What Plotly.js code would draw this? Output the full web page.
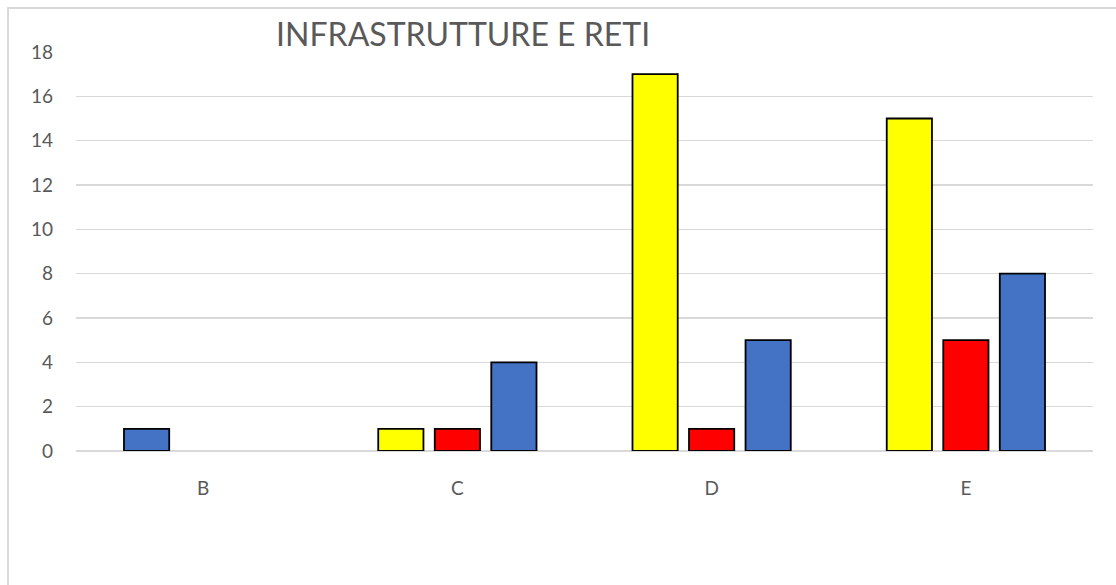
<!DOCTYPE html>
<html>
<head>
<meta charset="utf-8">
<script src="https://cdn.plot.ly/plotly-3.0.1.min.js"></script>
<style>
  html, body { margin: 0; padding: 0; background: #fff; }
  #wrap { position: relative; width: 1116px; height: 585px; }
  #chart { width: 1116px; height: 585px; }
  #frame { position: absolute; left: 7px; top: 7px; right: 0; bottom: 0;
           border-left: 2px solid #d9d9d9; border-top: 2px solid #d9d9d9;
           pointer-events: none; }
</style>
</head>
<body>
<div id="wrap">
  <div id="chart"></div>
  <div id="frame"></div>
</div>
<script>
const categories = ['B', 'C', 'D', 'E'];
const seriesYellow = [1, 1, 17, 15];
const seriesRed = [null, 1, 1, 5];
const seriesBlue = [null, 4, 5, 8];
const yellowColors = ['#4472C4', '#FFFF00', '#FFFF00', '#FFFF00'];
const tickValues = [0, 2, 4, 6, 8, 10, 12, 14, 16, 18];

const line = { color: '#000000', width: 1.8 };
const traces = [
  { type: 'bar', x: categories, y: seriesYellow, name: 'Serie 1',
    marker: { color: yellowColors, line: line } },
  { type: 'bar', x: categories, y: seriesRed, name: 'Serie 2',
    marker: { color: '#FF0000', line: line } },
  { type: 'bar', x: categories, y: seriesBlue, name: 'Serie 3',
    marker: { color: '#4472C4', line: line } }
];

const fontFam = 'Lato, "Open Sans", sans-serif';
const layout = {
  width: 1116, height: 585,
  margin: { l: 76, r: 23, t: 52, b: 134 },
  paper_bgcolor: '#ffffff', plot_bgcolor: '#ffffff',
  showlegend: false,
  barmode: 'group', bargap: 0.333, bargroupgap: 0.2,
  title: { text: 'INFRASTRUTTURE E RETI', xref: 'container', yref: 'container',
           x: 0.415, xanchor: 'center', y: 0.94, yanchor: 'middle',
           font: { family: fontFam, size: 32, color: '#595959' } },
  xaxis: { type: 'category', showgrid: false, zeroline: false, showline: false,
           ticks: '', ticklabelstandoff: 24,
           tickfont: { family: fontFam, size: 19, color: '#595959' } },
  yaxis: { range: [0, 18], tickvals: tickValues, showgrid: true,
           gridcolor: '#d9d9d9', gridwidth: 1.5, zeroline: true,
           zerolinecolor: '#d9d9d9', zerolinewidth: 1.5, showline: false,
           ticks: '', ticklabelstandoff: 22,
           tickfont: { family: fontFam, size: 19, color: '#595959' } }
};

Plotly.newPlot('chart', traces, layout, { displayModeBar: false, staticPlot: true });
</script>
</body>
</html>
